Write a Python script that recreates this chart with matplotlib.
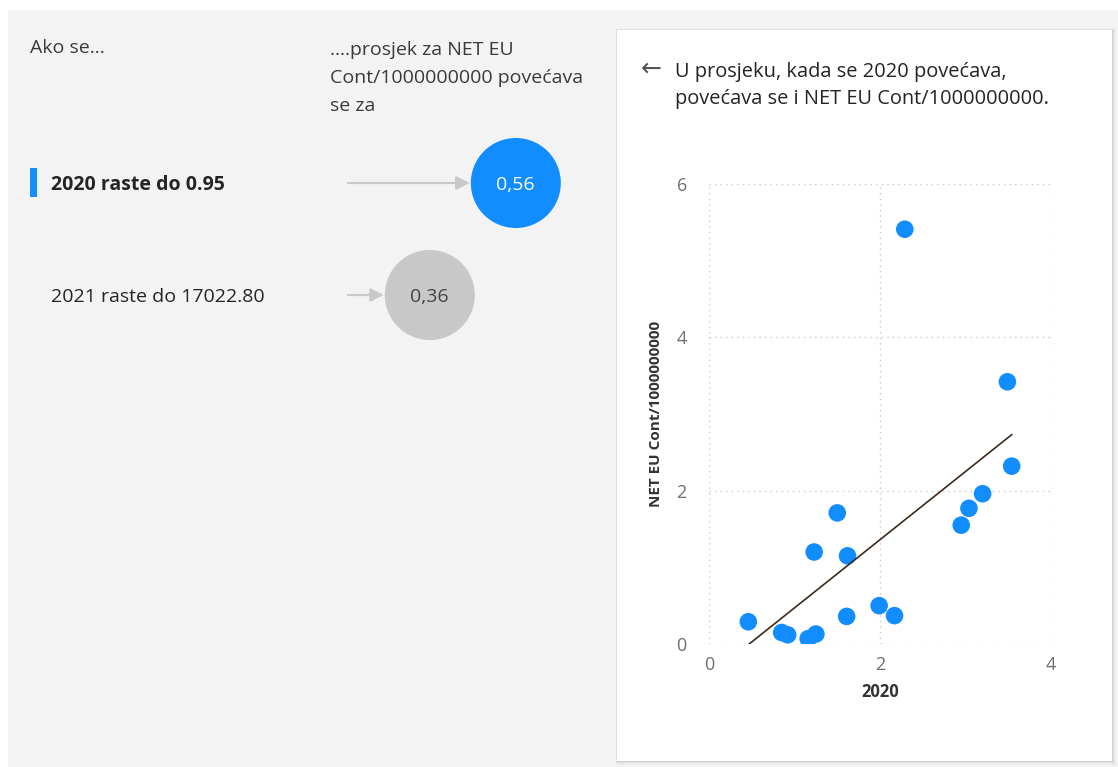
import matplotlib
matplotlib.use('Agg')

import matplotlib.pyplot as plt
import numpy as np
from matplotlib.patches import Circle, FancyArrowPatch, Rectangle

plt.rcParams['font.family'] = ['Open Sans', 'DejaVu Sans']

# ---------------------------------------------------------------------------
# Data
# ---------------------------------------------------------------------------
influencer_labels = ["2020 raste do 0.95", "2021 raste do 17022.80"]
influencer_values = [0.56, 0.36]
influencer_text = ["0,56", "0,36"]

x_2020 = [0.46, 0.85, 0.92, 1.16, 1.25, 1.23, 1.50, 1.62, 1.61, 1.99,
          2.17, 2.95, 3.04, 3.20, 3.54, 2.29, 3.49]
y_net = [0.29, 0.15, 0.12, 0.07, 0.13, 1.20, 1.71, 1.15, 0.36, 0.50,
         0.37, 1.55, 1.77, 1.96, 2.32, 5.41, 3.42]

x_ticks = [0, 2, 4]
y_ticks = [0, 2, 4, 6]

header_left = "Ako se…"
header_right = ["….prosjek za NET EU", "Cont/1000000000 povećava", "se za"]
card_title = ["U prosjeku, kada se 2020 povećava,",
              "povećava se i NET EU Cont/1000000000."]
x_label = "2020"
y_label = "NET EU Cont/1000000000"

W, H = 1118, 767
BLUE = '#118DFF'
BG = '#f3f3f3'
TXT = '#3b3a39'

fig = plt.figure(figsize=(W / 100, H / 100), dpi=100)
fig.patch.set_facecolor('white')

# background canvas in pixel coordinates
bg = fig.add_axes([0, 0, 1, 1])
bg.set_xlim(0, W)
bg.set_ylim(H, 0)
bg.axis('off')
bg.add_patch(Rectangle((8, 10), W - 8, H - 10, facecolor=BG, edgecolor='none'))

# card with soft shadow
for off, a in [(5, 0.03), (3, 0.05), (1.5, 0.07)]:
    bg.add_patch(Rectangle((617 - off * 0.3, 30 - off * 0.3), 495 + off, 731 + off,
                           facecolor='black', alpha=a, edgecolor='none'))
bg.add_patch(Rectangle((617, 30), 495, 731, facecolor='white', edgecolor='none'))

# left panel headers
bg.text(30, 53, header_left, fontsize=14, color=TXT, va='baseline', ha='left')
for k, line in enumerate(header_right):
    bg.text(330, 55 + k * 28, line, fontsize=14, color=TXT, va='baseline', ha='left')

# key influencer rows
row_y = [183, 295]
arrow_x0 = 348
circle_r = 45
val_x0, val_scale = 275, 430   # value -> x position of circle centre
for i, (lab, val, txt) in enumerate(zip(influencer_labels, influencer_values, influencer_text)):
    y = row_y[i]
    cx = val_x0 + val * val_scale
    selected = i == 0
    if selected:
        bg.add_patch(Rectangle((30, y - 15), 7, 29, facecolor=BLUE, edgecolor='none'))
    bg.text(51, y + 7, lab, fontsize=14, color='#252423', va='baseline', ha='left',
            fontweight='bold' if selected else 'normal')
    bg.add_patch(FancyArrowPatch((arrow_x0, y), (cx - circle_r - 1, y),
                                 arrowstyle='-|>,head_length=8,head_width=4',
                                 color='#c8c8c8', lw=1.6, mutation_scale=1,
                                 shrinkA=0, shrinkB=0))
    bg.add_patch(Circle((cx, y), circle_r, facecolor=BLUE if selected else '#c8c8c8',
                        edgecolor='none'))
    bg.text(cx, y + 7, txt, fontsize=14, color='white' if selected else '#444444',
            ha='center', va='baseline')

# card title
bg.text(651, 69, "←", fontsize=18, color='#555555', va='center', ha='center',
        family=['DejaVu Sans'])
for k, line in enumerate(card_title):
    bg.text(675, 77 + k * 27, line, fontsize=14.4, color='#252423', va='baseline',
            ha='left')

# scatter axes
ax = fig.add_axes([709 / W, 1 - 644 / H, (1051 - 709) / W, (644 - 184) / H])
ax.set_facecolor('white')
ax.scatter(x_2020, y_net, s=160, color=BLUE, edgecolor='none', zorder=3)

slope, intercept = np.polyfit(x_2020, y_net, 1)
xs = np.array([min(x_2020), max(x_2020)])
ax.plot(xs, slope * xs + intercept, color='#3d2a1c', lw=1.2, zorder=4)

ax.set_xlim(0, 4)
ax.set_ylim(0, 6)
ax.set_xticks(x_ticks)
ax.set_yticks(y_ticks)
ax.grid(True, color='#c8c8c8', linestyle=(0, (1, 3)), linewidth=1)
ax.set_axisbelow(True)
for s in ax.spines.values():
    s.set_visible(False)
ax.tick_params(axis='x', length=0, labelsize=13, labelcolor='#6f6f6f', pad=9)
ax.tick_params(axis='y', length=0, labelsize=13, labelcolor='#6f6f6f', pad=16)
ax.set_xlabel(x_label, fontsize=12, fontweight='bold', color='#333333', labelpad=6)
ax.set_ylabel(y_label, fontsize=11, fontweight='bold', color='#333333', labelpad=10)

fig.savefig('out.png', dpi=100)
plt.close(fig)
